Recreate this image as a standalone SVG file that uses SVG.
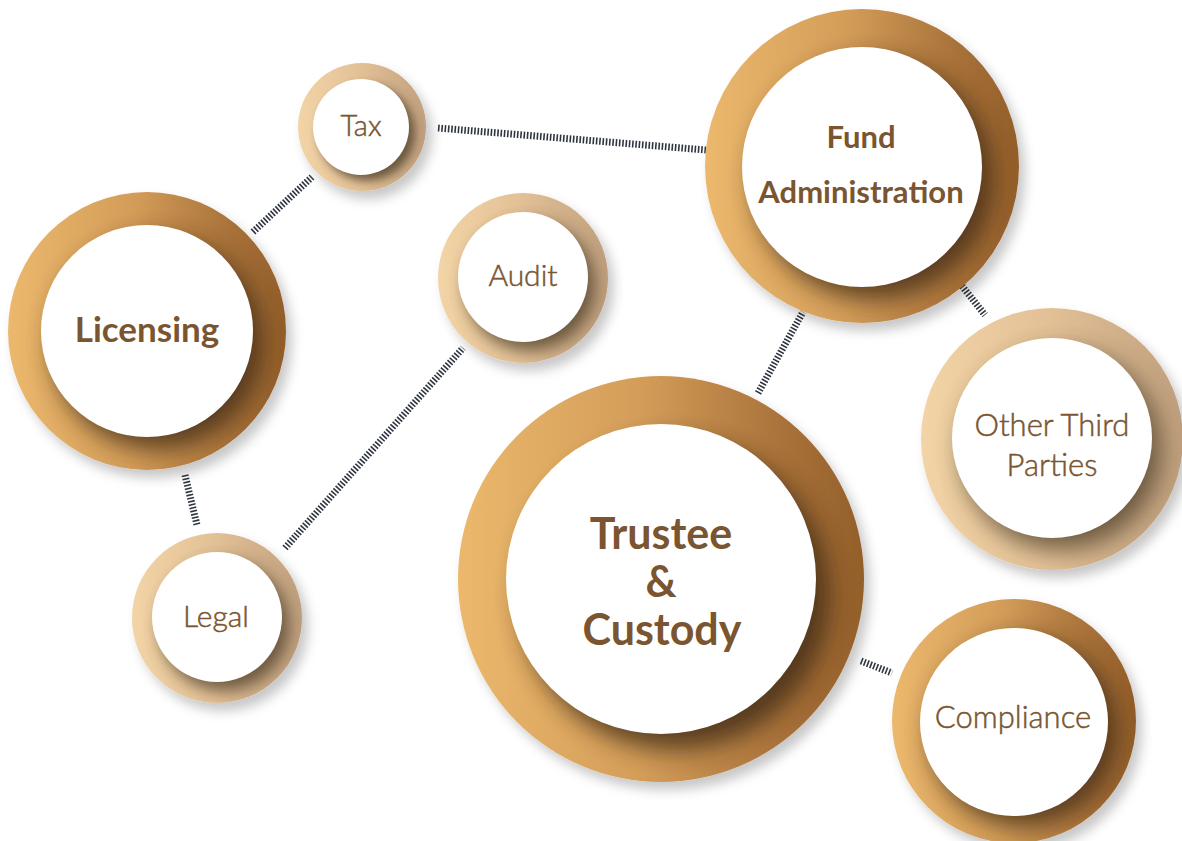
<svg xmlns="http://www.w3.org/2000/svg" width="1182" height="841" viewBox="0 0 1182 841">
<style>
.lbl{font-family:Lato,"Open Sans","Liberation Sans",sans-serif;fill:#7a5530;text-anchor:middle}
.b{font-weight:700}
.l{font-weight:300;stroke:#7a5530;stroke-width:0.5}
.conn{stroke:#2f3540;stroke-width:7;stroke-dasharray:1.6 1.7;fill:none}
.inner{fill:#ffffff}
</style>
<defs>
<linearGradient id="gDark" x1="0" y1="0" x2="1" y2="0">
<stop offset="0" stop-color="#ebb86d"/>
<stop offset="0.45" stop-color="#d39d59"/>
<stop offset="0.8" stop-color="#a9723a"/>
<stop offset="1" stop-color="#935f2a"/>
</linearGradient>
<linearGradient id="gLight" x1="0" y1="0" x2="1" y2="0">
<stop offset="0" stop-color="#f2d4a6"/>
<stop offset="0.5" stop-color="#e2c096"/>
<stop offset="1" stop-color="#c0a07e"/>
</linearGradient>
<filter id="outerSh" x="-20%" y="-20%" width="150%" height="150%">
<feDropShadow dx="6" dy="8" stdDeviation="6" flood-color="#000" flood-opacity="0.22"/>
</filter>
<filter id="blurL" x="-30%" y="-30%" width="160%" height="160%"><feGaussianBlur stdDeviation="12"/></filter>
<filter id="blurM" x="-30%" y="-30%" width="160%" height="160%"><feGaussianBlur stdDeviation="8"/></filter>
<filter id="blurS" x="-30%" y="-30%" width="160%" height="160%"><feGaussianBlur stdDeviation="5"/></filter>
<clipPath id="cTax"><circle cx="362" cy="127" r="64"/></clipPath>
<clipPath id="cAudit"><circle cx="523" cy="278" r="85"/></clipPath>
<clipPath id="cLegal"><circle cx="217" cy="618" r="85"/></clipPath>
<clipPath id="cOther"><circle cx="1052" cy="439" r="131"/></clipPath>
<clipPath id="cLic"><circle cx="147" cy="331" r="139"/></clipPath>
<clipPath id="cFund"><circle cx="862" cy="166" r="157"/></clipPath>
<clipPath id="cTrust"><circle cx="661" cy="579" r="203"/></clipPath>
<clipPath id="cComp"><circle cx="1014" cy="721" r="122"/></clipPath>
</defs>
<rect width="1182" height="841" fill="#ffffff"/>

<g id="connectors">
<line class="conn" x1="253" y1="232" x2="312" y2="177"/>
<line class="conn" x1="438" y1="128" x2="706" y2="150"/>
<line class="conn" x1="185" y1="475" x2="197" y2="525"/>
<line class="conn" x1="285" y1="548" x2="463" y2="348"/>
<line class="conn" x1="758" y1="393" x2="803" y2="312"/>
<line class="conn" x1="962" y1="286" x2="985" y2="315"/>
<line class="conn" x1="861" y1="661" x2="892" y2="673"/>
</g>

<g id="node-tax">
<circle cx="362" cy="127" r="64" fill="url(#gLight)" filter="url(#outerSh)"/>
<g clip-path="url(#cTax)"><circle cx="367" cy="133" r="48" fill="#4a3a28" opacity="0.75" filter="url(#blurS)"/></g>
<circle class="inner" cx="361" cy="127" r="48"/>
<text class="lbl l" x="361" y="136" font-size="29">Tax</text>
</g>

<g id="node-audit">
<circle cx="523" cy="278" r="85" fill="url(#gLight)" filter="url(#outerSh)"/>
<g clip-path="url(#cAudit)"><circle cx="530" cy="286" r="65" fill="#4a3a28" opacity="0.75" filter="url(#blurM)"/></g>
<circle class="inner" cx="523" cy="277" r="65"/>
<text class="lbl l" x="523" y="286" font-size="30">Audit</text>
</g>

<g id="node-legal">
<circle cx="217" cy="618" r="85" fill="url(#gLight)" filter="url(#outerSh)"/>
<g clip-path="url(#cLegal)"><circle cx="224" cy="626" r="65" fill="#4a3a28" opacity="0.75" filter="url(#blurM)"/></g>
<circle class="inner" cx="217" cy="617" r="65"/>
<text class="lbl l" x="216" y="627" font-size="30">Legal</text>
</g>

<g id="node-other">
<circle cx="1052" cy="439" r="131" fill="url(#gLight)" filter="url(#outerSh)"/>
<g clip-path="url(#cOther)"><circle cx="1061" cy="450" r="100" fill="#4a3a28" opacity="0.75" filter="url(#blurL)"/></g>
<circle class="inner" cx="1052" cy="438" r="100"/>
<text class="lbl l" x="1052" y="436" font-size="31">Other Third</text>
<text class="lbl l" x="1052" y="476" font-size="31">Parties</text>
</g>

<g id="node-licensing">
<circle cx="147" cy="331" r="139" fill="url(#gDark)" filter="url(#outerSh)"/>
<g clip-path="url(#cLic)"><circle cx="157" cy="343" r="106" fill="#3f2a12" opacity="0.8" filter="url(#blurL)"/></g>
<circle class="inner" cx="147" cy="331" r="106"/>
<text class="lbl b" x="147" y="342" font-size="35">Licensing</text>
</g>

<g id="node-fund">
<circle cx="862" cy="166" r="157" fill="url(#gDark)" filter="url(#outerSh)"/>
<g clip-path="url(#cFund)"><circle cx="873" cy="179" r="120" fill="#3f2a12" opacity="0.8" filter="url(#blurL)"/></g>
<circle class="inner" cx="862" cy="167" r="120"/>
<text class="lbl b" x="861" y="148" font-size="31">Fund</text>
<text class="lbl b" x="861" y="203" font-size="31">Administration</text>
</g>

<g id="node-trustee">
<circle cx="661" cy="579" r="203" fill="url(#gDark)" filter="url(#outerSh)"/>
<g clip-path="url(#cTrust)"><circle cx="675" cy="595" r="155" fill="#3f2a12" opacity="0.8" filter="url(#blurL)"/></g>
<circle class="inner" cx="661" cy="579" r="155"/>
<text class="lbl b" x="661" y="549" font-size="43">Trustee</text>
<text class="lbl b" x="661" y="597" font-size="43">&amp;</text>
<text class="lbl b" x="662" y="645" font-size="43">Custody</text>
</g>

<g id="node-compliance">
<circle cx="1014" cy="721" r="122" fill="url(#gDark)" filter="url(#outerSh)"/>
<g clip-path="url(#cComp)"><circle cx="1023" cy="732" r="94" fill="#3f2a12" opacity="0.8" filter="url(#blurL)"/></g>
<circle class="inner" cx="1014" cy="722" r="94"/>
<text class="lbl l" x="1013" y="728" font-size="31">Compliance</text>
</g>
</svg>
